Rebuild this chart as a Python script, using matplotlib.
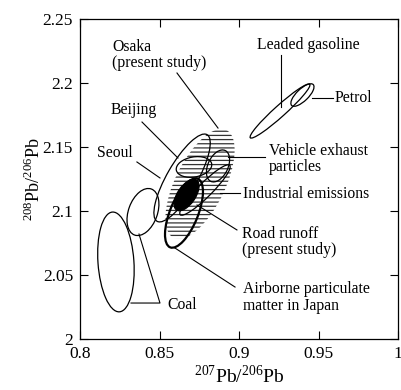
import numpy as np
import matplotlib
matplotlib.use('Agg')
import matplotlib.pyplot as plt
from matplotlib.patches import Ellipse
from matplotlib.transforms import Affine2D

plt.rcParams['font.family'] = ['Liberation Serif', 'DejaVu Serif']
plt.rcParams['mathtext.fontset'] = 'custom'
plt.rcParams['mathtext.rm'] = 'Liberation Serif'
plt.rcParams['hatch.linewidth'] = 0.9

# source regions: centre (x, y), long axis, short axis (both in x units), tilt in degrees
outline_names = ['Coal', 'Coal', 'Seoul', 'Beijing', 'Vehicle exhaust particles',
                 'Industrial emissions', 'Leaded gasoline', 'Petrol']
outline_x = [0.8226, 0.8396, 0.8642, 0.8717, 0.8868, 0.8786, 0.9258, 0.9399]
outline_y = [2.0602, 2.0992, 2.1258, 2.1344, 2.1352, 2.1164, 2.1781, 2.1906]
outline_len = [0.0629, 0.0308, 0.0629, 0.0226, 0.0214, 0.0440, 0.0503, 0.0189]
outline_wid = [0.0226, 0.0182, 0.0189, 0.0126, 0.0126, 0.0088, 0.0070, 0.0075]
outline_ang = [94, 70, 60, 10, 65, 45, 42, 44]

# airborne particulate matter in Japan
japan = (0.8654, 2.0984, 0.0465, 0.0176, 68)
# Osaka, present study (hatched)
osaka = (0.8755, 2.1211, 0.0755, 0.0314, 64)
# road runoff, present study (filled)
road = (0.8670, 2.1125, 0.0226, 0.0113, 56)

xticks = [0.8, 0.85, 0.9, 0.95, 1.0]
xticklabels = ['0.8', '0.85', '0.9', '0.95', '1']
yticks = [2.0, 2.05, 2.1, 2.15, 2.2, 2.25]
yticklabels = ['2', '2.05', '2.1', '2.15', '2.2', '2.25']

# labels: text, anchor, leader line points
labels = [
    ('Osaka\n(present study)', (0.8201, 2.2219), [(0.8610, 0.8868), (2.2078, 2.1648)]),
    ('Beijing', (0.8195, 2.1789), [(0.8390, 0.8616), (2.1695, 2.1414)]),
    ('Seoul', (0.8107, 2.1453), [(0.8358, 0.8503), (2.1383, 2.1258)]),
    ('Leaded gasoline', (0.9113, 2.2297), [(0.9264, 0.9264), (2.2219, 2.1813)]),
    ('Petrol', (0.9604, 2.1883), [(0.9459, 0.9591), (2.1883, 2.1883)]),
    ('Vehicle exhaust\nparticles', (0.9189, 2.1406), [(0.8931, 0.9164), (2.1422, 2.1422)]),
    ('Industrial emissions', (0.9025, 2.1133), [(0.8881, 0.9006), (2.1141, 2.1141)]),
    ('Road runoff\n(present study)', (0.9019, 2.0758), [(0.8736, 0.8987), (2.1047, 2.0852)]),
    ('Airborne particulate\nmatter in Japan', (0.9025, 2.0324), [(0.8597, 0.8975), (2.0711, 2.0406)]),
    ('Coal', (0.8547, 2.0266), [(0.8321, 0.8503, 0.8371), (2.0281, 2.0281, 2.0820)]),
]

fig = plt.figure(figsize=(4.01, 3.90), dpi=100)
ax = fig.add_axes([80 / 401, 51 / 390, 318 / 401, 320 / 390])
ax.set_xlim(0.8, 1.0)
ax.set_ylim(2.0, 2.25)

# y units per x unit so ellipses keep their drawn shape
pos = ax.get_position()
w_px = pos.width * fig.get_figwidth() * fig.dpi
h_px = pos.height * fig.get_figheight() * fig.dpi
k = (0.25 / h_px) / (0.2 / w_px)


def region(cx, cy, length, width, ang, **kw):
    tr = Affine2D().scale(1, k).translate(cx, cy) + ax.transData
    e = Ellipse((0, 0), length, width, angle=ang, transform=tr, **kw)
    ax.add_patch(e)
    return e


region(*osaka, fill=False, hatch='----', edgecolor='#333333', linewidth=0)

for i in range(len(outline_names)):
    region(outline_x[i], outline_y[i], outline_len[i], outline_wid[i], outline_ang[i],
           fill=False, edgecolor='black', linewidth=0.9)

region(*japan, fill=False, edgecolor='black', linewidth=1.6)
region(*road, facecolor='black', edgecolor='black', linewidth=0.9)

for txt, (tx, ty), (lx, ly) in labels:
    ax.plot(lx, ly, color='black', linewidth=0.8)
    ax.text(tx, ty, txt, fontsize=11.3, ha='left', va='center', linespacing=1.05)

ax.set_xticks(xticks)
ax.set_xticklabels(xticklabels)
ax.set_yticks(yticks)
ax.set_yticklabels(yticklabels)
ax.tick_params(direction='in', length=6, width=0.8, top=True, right=True,
               labelsize=12.5, pad=5)
for s in ax.spines.values():
    s.set_linewidth(0.9)

ax.set_xlabel(r'$^{207}$Pb/$^{206}$Pb', fontsize=14, labelpad=2)
ax.set_ylabel(r'$^{208}$Pb/$^{206}$Pb', fontsize=13, labelpad=-1)

plt.savefig('out.png', dpi=100)
